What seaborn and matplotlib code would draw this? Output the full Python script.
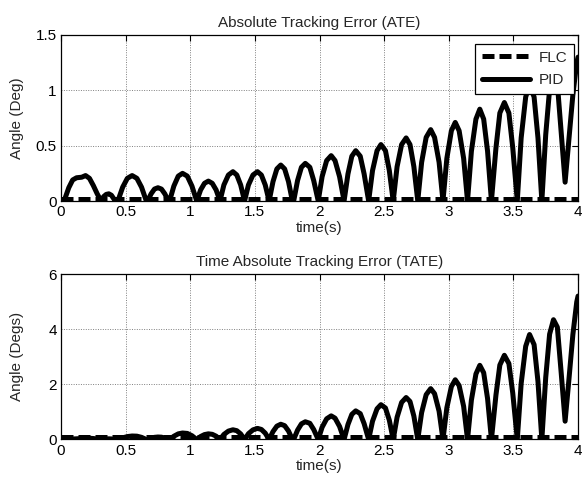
import numpy as np
import pandas as pd
import matplotlib
matplotlib.use("Agg")
import matplotlib.pyplot as plt
import seaborn as sns

# ---------------- data ----------------
time = [
    0.00, 0.03, 0.06, 0.09, 0.12, 0.16, 0.19, 0.22, 0.25, 0.28, 0.31,
    0.33, 0.35, 0.37, 0.39, 0.42, 0.44,
    0.477, 0.513, 0.55, 0.587, 0.623, 0.66,
    0.67, 0.697, 0.723, 0.75, 0.777, 0.803, 0.83,
    0.84, 0.873, 0.907, 0.94, 0.977, 1.013, 1.05,
    1.08, 1.11, 1.14, 1.17, 1.20, 1.23,
    1.26, 1.295, 1.33, 1.36, 1.39, 1.42,
    1.45, 1.485, 1.52, 1.55, 1.58, 1.61,
    1.64, 1.67, 1.70, 1.73, 1.76, 1.79,
    1.80, 1.83, 1.86, 1.89, 1.925, 1.955, 1.99,
    2.02, 2.055, 2.09, 2.12, 2.155, 2.19,
    2.22, 2.25, 2.28, 2.315, 2.345, 2.38,
    2.41, 2.445, 2.475, 2.51, 2.54, 2.57,
    2.60, 2.635, 2.67, 2.70, 2.73, 2.76,
    2.79, 2.825, 2.86, 2.89, 2.925, 2.955,
    2.985, 3.02, 3.05, 3.08, 3.115, 3.145,
    3.175, 3.21, 3.24, 3.27, 3.30, 3.33,
    3.365, 3.395, 3.43, 3.465, 3.495, 3.53,
    3.56, 3.595, 3.625, 3.66, 3.69, 3.72,
    3.75, 3.78, 3.81, 3.84, 3.87, 3.90,
    3.93, 3.96, 3.99, 4.00,
]

pid_ate = [
    0.00, 0.02, 0.12, 0.19, 0.21, 0.215, 0.23, 0.205, 0.14, 0.065, 0.00,
    0.04, 0.06, 0.065, 0.052, 0.00, 0.00,
    0.125, 0.205, 0.23, 0.205, 0.125, 0.00,
    0.00, 0.065, 0.108, 0.12, 0.108, 0.065, 0.00,
    0.00, 0.135, 0.225, 0.25, 0.225, 0.135, 0.00,
    0.10, 0.16, 0.18, 0.16, 0.10, 0.00,
    0.145, 0.235, 0.265, 0.235, 0.145, 0.00,
    0.145, 0.235, 0.265, 0.235, 0.145, 0.00,
    0.175, 0.29, 0.325, 0.29, 0.175, 0.00,
    0.00, 0.185, 0.305, 0.34, 0.305, 0.185, 0.00,
    0.22, 0.365, 0.41, 0.365, 0.22, 0.00,
    0.245, 0.405, 0.455, 0.405, 0.245, 0.00,
    0.275, 0.455, 0.51, 0.455, 0.275, 0.00,
    0.31, 0.51, 0.57, 0.51, 0.31, 0.00,
    0.35, 0.575, 0.645, 0.575, 0.35, 0.00,
    0.385, 0.635, 0.71, 0.635, 0.385, 0.00,
    0.45, 0.74, 0.83, 0.74, 0.45, 0.00,
    0.48, 0.795, 0.89, 0.795, 0.48, 0.00,
    0.57, 0.94, 1.05, 0.94, 0.57, 0.00,
    0.60, 1.01, 1.14, 1.06, 0.62, 0.17,
    0.56, 0.96, 1.25, 1.30,
]

flc_time = [0.0, 4.0]
flc_ate = [0.02, 0.02]
flc_tate = [0.08, 0.08]

x_ticks = [0, 0.5, 1, 1.5, 2, 2.5, 3, 3.5, 4]
x_ticklabels = ["0", "0.5", "1", "1.5", "2", "2.5", "3", "3.5", "4"]
y1_ticks = [0, 0.5, 1, 1.5]
y1_ticklabels = ["0", "0.5", "1", "1.5"]
y2_ticks = [0, 2, 4, 6]
y2_ticklabels = ["0", "2", "4", "6"]

# TATE is the time-weighted absolute error: t * |e|
pid_df = pd.DataFrame({"time": time, "ATE": pid_ate})
pid_df["TATE"] = pid_df["time"] * pid_df["ATE"]
flc_df = pd.DataFrame({"time": flc_time, "ATE": flc_ate, "TATE": flc_tate})

# ---------------- style ----------------
sns.set_style("white")
plt.rcParams["font.family"] = ["Liberation Sans", "DejaVu Sans"]
FS = 11

fig = plt.figure(figsize=(5.85, 4.86), dpi=100)
ax1 = fig.add_axes([0.1043, 0.5864, 0.8838, 0.3416])
ax2 = fig.add_axes([0.1043, 0.0957, 0.8838, 0.3405])

LW = 3.6
DASH = (0, (2.4, 1.0))

for ax, col, ylim, yt, ytl, ylab, title in [
    (ax1, "ATE", (0, 1.5), y1_ticks, y1_ticklabels, "Angle (Deg)",
     "Absolute Tracking Error (ATE)"),
    (ax2, "TATE", (0, 6), y2_ticks, y2_ticklabels, "Angle (Degs)",
     "Time Absolute Tracking Error (TATE)"),
]:
    sns.lineplot(data=flc_df, x="time", y=col, ax=ax, color="black",
                 linewidth=LW, linestyle=DASH, label="FLC",
                 estimator=None, sort=False)
    sns.lineplot(data=pid_df, x="time", y=col, ax=ax, color="black",
                 linewidth=LW, label="PID", estimator=None, sort=False,
                 solid_joinstyle="round", solid_capstyle="round")
    ax.set_xlim(0, 4)
    ax.set_ylim(*ylim)
    ax.set_xticks(x_ticks)
    ax.set_xticklabels(x_ticklabels)
    ax.set_yticks(yt)
    ax.set_yticklabels(ytl)
    ax.grid(True, linestyle=(0, (1, 1.5)), color="#7f7f7f", linewidth=0.7)
    ax.tick_params(direction="in", length=4, width=0.8, top=True,
                   right=True, labelsize=FS, pad=3, colors="black")
    for s in ax.spines.values():
        s.set_visible(True)
        s.set_color("black")
        s.set_linewidth(0.9)
    ax.set_xlabel("time(s)", fontsize=FS, labelpad=1)
    ax.set_ylabel(ylab, fontsize=FS)
    ax.yaxis.set_label_coords(-0.072, 0.5)
    ax.set_title(title, fontsize=FS, pad=6)

ax2.get_legend().remove()
leg = ax1.legend(loc="upper right", bbox_to_anchor=(0.993, 0.946),
                 borderaxespad=0, fontsize=FS, frameon=True, fancybox=False,
                 framealpha=1, edgecolor="black", handlelength=3.1,
                 handletextpad=0.6, borderpad=0.45, labelspacing=0.55)
leg.get_frame().set_linewidth(0.9)

fig.savefig("out.png", dpi=100)
